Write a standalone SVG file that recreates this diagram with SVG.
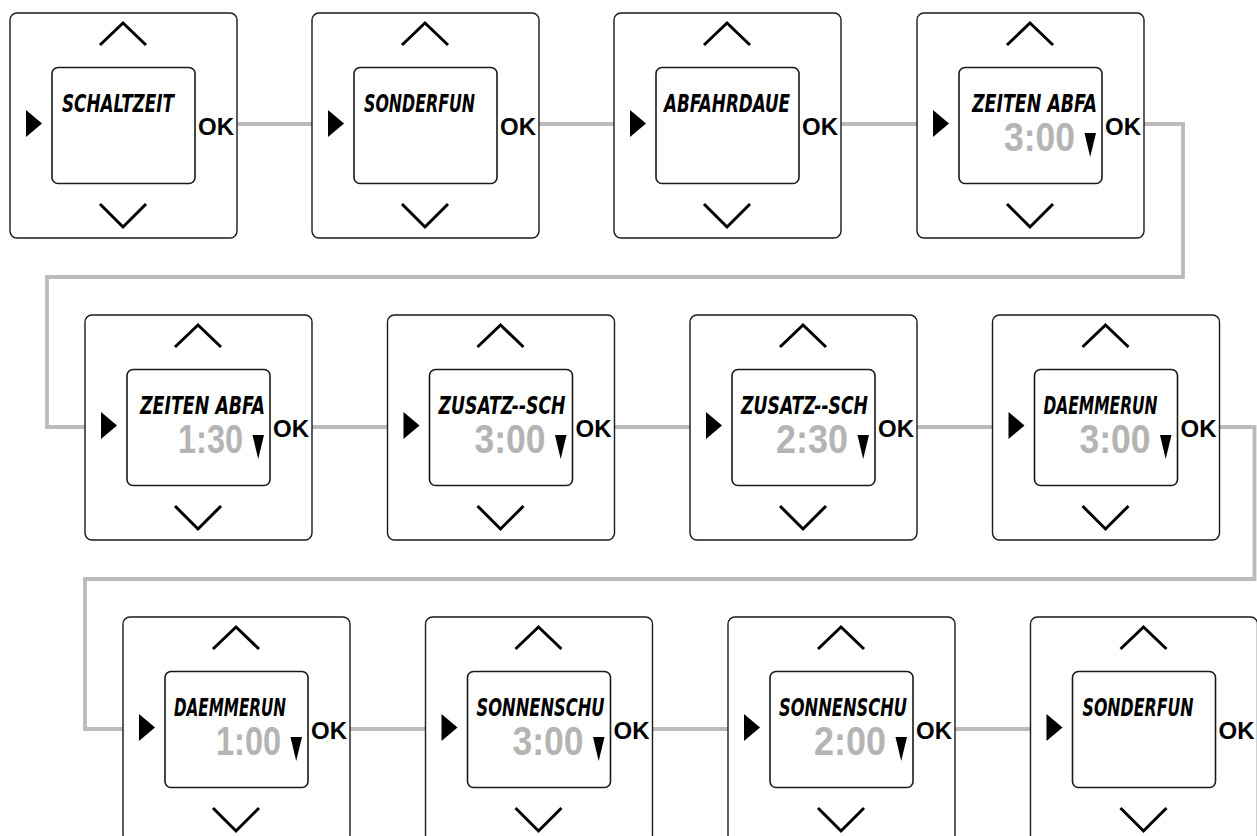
<svg xmlns="http://www.w3.org/2000/svg" xmlns:xlink="http://www.w3.org/1999/xlink" width="1257" height="836" viewBox="0 0 1257 836">
<style>
.outer{fill:#fff;stroke:#1a1a1a;stroke-width:1.4}
.screen{fill:#fff;stroke:#1a1a1a;stroke-width:1.6}
.chev{fill:none;stroke:#000;stroke-width:3}
.sel{fill:#000;stroke:none}
.lbl{font-family:"DejaVu Sans Condensed","DejaVu Sans",sans-serif;font-weight:bold;font-style:oblique;font-size:18px;fill:#000}
.ok{font-family:"Liberation Sans",Arial,sans-serif;font-weight:bold;font-size:24px;fill:#000}
.dig{font-family:"Liberation Sans",Arial,sans-serif;font-weight:bold;font-size:41px;fill:#b4b4b4}
.conn{fill:none;stroke:#bbbbbb;stroke-width:3.8}
</style>
<defs>
<g id="keypad">
<rect class="outer" x="0" y="0" width="227" height="225" rx="7"/>
<rect class="screen" x="42" y="54.5" width="143" height="116" rx="6"/>
<polyline class="chev" points="90,32 113,10 136,32"/>
<polyline class="chev" points="90,191 113,214 136,191"/>
<polygon class="sel" points="16,97 32,110.5 16,124"/>
</g>
<polygon id="dn" class="sel" points="167.5,120 179,120 173.2,144"/>
</defs>
<rect width="1257" height="836" fill="#fff"/>
<g id="connectors">
<line class="conn" x1="237" y1="124" x2="312" y2="124"/>
<line class="conn" x1="539" y1="124" x2="614" y2="124"/>
<line class="conn" x1="841" y1="124" x2="917" y2="124"/>
<polyline class="conn" points="1144,124 1183,124 1183,277 47,277 47,427 85,427"/>
<line class="conn" x1="312" y1="427" x2="387.5" y2="427"/>
<line class="conn" x1="614.5" y1="427" x2="690" y2="427"/>
<line class="conn" x1="917" y1="427" x2="992.5" y2="427"/>
<polyline class="conn" points="1219.5,427 1254.5,427 1254.5,579 85,579 85,729 123,729"/>
<line class="conn" x1="350" y1="729" x2="425.5" y2="729"/>
<line class="conn" x1="652.5" y1="729" x2="728" y2="729"/>
<line class="conn" x1="955" y1="729" x2="1030.5" y2="729"/>
</g>
<g id="n1" transform="translate(10,13)">
<use xlink:href="#keypad"/>
<text class="lbl" transform="translate(52,99) scale(1,1.38)" textLength="112" lengthAdjust="spacingAndGlyphs">SCHALTZEIT</text>
<text class="ok" x="188" y="122">OK</text>
</g>
<g id="n2" transform="translate(312,13)">
<use xlink:href="#keypad"/>
<text class="lbl" transform="translate(52,99) scale(1,1.38)" textLength="111" lengthAdjust="spacingAndGlyphs">SONDERFUN</text>
<text class="ok" x="188" y="122">OK</text>
</g>
<g id="n3" transform="translate(614,13)">
<use xlink:href="#keypad"/>
<text class="lbl" transform="translate(50,99) scale(1,1.38)" textLength="126" lengthAdjust="spacingAndGlyphs">ABFAHRDAUE</text>
<text class="ok" x="188" y="122">OK</text>
</g>
<g id="n4" transform="translate(917,13)">
<use xlink:href="#keypad"/>
<text class="lbl" transform="translate(55,99) scale(1,1.38)" textLength="125" lengthAdjust="spacingAndGlyphs">ZEITEN ABFA</text>
<text class="dig" x="87" y="138" textLength="71" lengthAdjust="spacingAndGlyphs">3:00</text>
<use xlink:href="#dn"/>
<text class="ok" x="188" y="122">OK</text>
</g>
<g id="n5" transform="translate(85,315)">
<use xlink:href="#keypad"/>
<text class="lbl" transform="translate(55,99) scale(1,1.38)" textLength="125" lengthAdjust="spacingAndGlyphs">ZEITEN ABFA</text>
<text class="dig" x="93" y="138" textLength="65" lengthAdjust="spacingAndGlyphs">1:30</text>
<use xlink:href="#dn"/>
<text class="ok" x="188" y="122">OK</text>
</g>
<g id="n6" transform="translate(387.5,315)">
<use xlink:href="#keypad"/>
<text class="lbl" transform="translate(51,99) scale(1,1.38)" textLength="127" lengthAdjust="spacingAndGlyphs">ZUSATZ--SCH</text>
<text class="dig" x="87" y="138" textLength="71" lengthAdjust="spacingAndGlyphs">3:00</text>
<use xlink:href="#dn"/>
<text class="ok" x="188" y="122">OK</text>
</g>
<g id="n7" transform="translate(690,315)">
<use xlink:href="#keypad"/>
<text class="lbl" transform="translate(51,99) scale(1,1.38)" textLength="127" lengthAdjust="spacingAndGlyphs">ZUSATZ--SCH</text>
<text class="dig" x="86" y="138" textLength="72" lengthAdjust="spacingAndGlyphs">2:30</text>
<use xlink:href="#dn"/>
<text class="ok" x="188" y="122">OK</text>
</g>
<g id="n8" transform="translate(992.5,315)">
<use xlink:href="#keypad"/>
<text class="lbl" transform="translate(51,99) scale(1,1.38)" textLength="114" lengthAdjust="spacingAndGlyphs">DAEMMERUN</text>
<text class="dig" x="87" y="138" textLength="71" lengthAdjust="spacingAndGlyphs">3:00</text>
<use xlink:href="#dn"/>
<text class="ok" x="188" y="122">OK</text>
</g>
<g id="n9" transform="translate(123,617)">
<use xlink:href="#keypad"/>
<text class="lbl" transform="translate(51,99) scale(1,1.38)" textLength="112" lengthAdjust="spacingAndGlyphs">DAEMMERUN</text>
<text class="dig" x="93" y="138" textLength="65" lengthAdjust="spacingAndGlyphs">1:00</text>
<use xlink:href="#dn"/>
<text class="ok" x="188" y="122">OK</text>
</g>
<g id="n10" transform="translate(425.5,617)">
<use xlink:href="#keypad"/>
<text class="lbl" transform="translate(51,99) scale(1,1.38)" textLength="128" lengthAdjust="spacingAndGlyphs">SONNENSCHU</text>
<text class="dig" x="87" y="138" textLength="71" lengthAdjust="spacingAndGlyphs">3:00</text>
<use xlink:href="#dn"/>
<text class="ok" x="188" y="122">OK</text>
</g>
<g id="n11" transform="translate(728,617)">
<use xlink:href="#keypad"/>
<text class="lbl" transform="translate(51,99) scale(1,1.38)" textLength="128" lengthAdjust="spacingAndGlyphs">SONNENSCHU</text>
<text class="dig" x="86" y="138" textLength="72" lengthAdjust="spacingAndGlyphs">2:00</text>
<use xlink:href="#dn"/>
<text class="ok" x="188" y="122">OK</text>
</g>
<g id="n12" transform="translate(1030.5,617)">
<use xlink:href="#keypad"/>
<text class="lbl" transform="translate(52,99) scale(1,1.38)" textLength="111" lengthAdjust="spacingAndGlyphs">SONDERFUN</text>
<text class="ok" x="188" y="122">OK</text>
</g>
</svg>
